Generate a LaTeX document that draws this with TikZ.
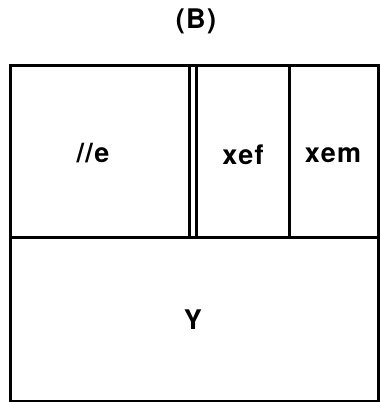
\documentclass[tikz,border=0pt]{standalone}
\usepackage{fontspec}
\setmainfont{TeX Gyre Heros}[LetterSpace=5]
\begin{document}
\begin{tikzpicture}[x=1pt, y=-1pt, line width=3pt, font=\fontsize{27}{32}\selectfont\bfseries]
\useasboundingbox (0,0) rectangle (380,402);
\node (title) at (196,21) {(B)};
% upper row
\draw (10,65) rectangle (189,237);
\draw (196,65)--(196,237);
\draw (289,65)--(289,237);
\draw (189,65)--(378,65)--(378,237);
% lower part
\draw (10,237) rectangle (378,401);
\node (ee) at (93,153) {//e};
\node (xef) at (243,155) {xef};
\node (xem) at (333,155) {xem};
\node (y) at (193,320) {Y};
\end{tikzpicture}
\end{document}
